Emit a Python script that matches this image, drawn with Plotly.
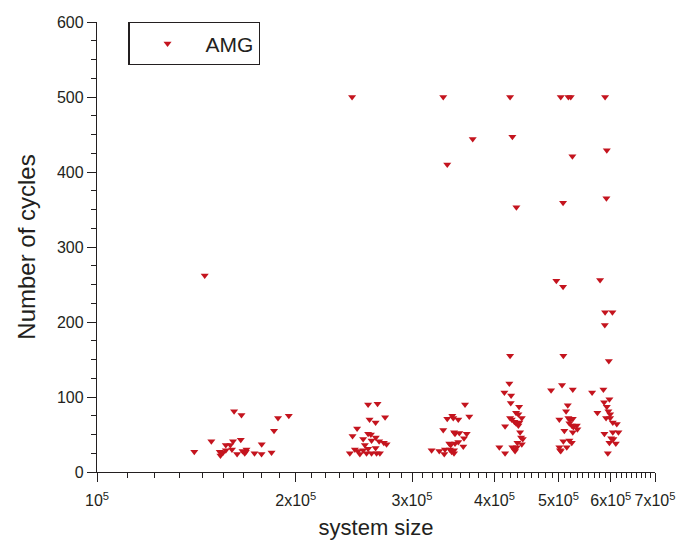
import plotly.graph_objects as go
import numpy as np

# system size (units of 1e5) and number of cycles, per cluster
g1_x = [1.404, 1.456, 1.490, 1.534, 1.543, 1.552, 1.538, 1.567, 1.567, 1.592, 1.601, 1.607, 1.613,
        1.630, 1.651, 1.655, 1.661, 1.674, 1.684, 1.680, 1.732, 1.775, 1.776, 1.838, 1.854, 1.880, 1.952]
g1_y = [27, 262, 41, 27, 25, 26, 22, 36, 29, 36, 30, 41, 81,
        24, 43, 76, 28, 25, 30, 27, 25, 24, 37, 26, 55, 72, 75]

g2_x = [2.434, 2.415, 2.438, 2.458, 2.477, 2.486, 2.501, 2.530, 2.530, 2.545, 2.560, 2.574, 2.574, 2.574,
        2.587, 2.599, 2.605, 2.605, 2.642, 2.642, 2.644, 2.651, 2.660, 2.675, 2.682, 2.719, 2.731, 2.745]
g2_y = [500, 25, 48, 30, 58, 28, 24, 44, 29, 36, 25, 90, 51, 31,
        70, 50, 42, 25, 66, 32, 46, 25, 91, 41, 25, 39, 73, 37]

g3_x = [3.345, 3.707, 3.392, 3.609, 3.663, 3.392, 3.452, 3.464, 3.525, 3.345, 3.473, 3.485, 3.538, 3.630,
        3.596, 3.416, 3.433, 3.485, 3.525, 3.587, 3.212, 3.299, 3.365, 3.357, 3.424, 3.445, 3.473, 3.473]
g3_y = [500, 444, 410, 90, 74, 71, 75, 72, 70, 56, 53, 51, 52, 51,
        45, 38, 36, 38, 40, 34, 29, 28, 30, 24, 30, 27, 25, 29]

g4_x = [4.223, 4.257, 4.317, 4.223, 4.212, 4.140, 4.238, 4.233, 4.358, 4.312, 4.347, 4.399, 4.223, 4.248,
        4.287, 4.312, 4.347, 4.362, 4.150, 4.373, 4.388, 4.414, 4.332, 4.399, 4.068, 4.257, 4.287, 4.323,
        4.297, 4.150]
g4_y = [500, 447, 353, 155, 118, 106, 102, 92, 87, 79, 77, 72, 72, 70,
        67, 65, 62, 66, 61, 53, 46, 44, 39, 37, 33, 33, 30, 33,
        28, 25]

g5_x = [5.039, 5.175, 5.218, 5.248, 5.080, 4.962, 5.080, 5.085, 5.062, 4.872, 5.255, 5.164, 5.134, 5.015,
        5.175, 5.206, 5.255, 5.193, 5.237, 5.329, 5.266, 5.340, 5.103, 5.255, 5.085, 5.193, 5.237, 5.146,
        5.015, 5.027, 5.039]
g5_y = [500, 500, 500, 421, 359, 255, 247, 155, 116, 109, 110, 89, 81, 70,
        72, 69, 71, 65, 62, 62, 60, 57, 55, 53, 41, 42, 39, 33,
        33, 29, 28]

g6_x = [5.882, 5.917, 5.909, 5.780, 5.882, 6.034, 5.876, 5.959, 5.847, 5.621, 5.971, 5.861, 5.917, 5.950,
        5.986, 5.726, 5.902, 5.986, 6.042, 6.127, 5.868, 6.042, 6.162, 6.007, 6.055, 5.971, 6.106, 5.938]
g6_y = [500, 429, 365, 256, 213, 213, 196, 148, 110, 106, 97, 93, 87, 81,
        77, 79, 72, 72, 66, 64, 51, 53, 53, 45, 44, 39, 38, 25]

x_scale = 1e5
tick_mult = [1, 2, 3, 4, 5, 6, 7]
tick_text = ["10<sup>5</sup>", "2x10<sup>5</sup>", "3x10<sup>5</sup>", "4x10<sup>5</sup>",
             "5x10<sup>5</sup>", "6x10<sup>5</sup>", "7x10<sup>5</sup>"]

xs = [v * x_scale for v in g1_x + g2_x + g3_x + g4_x + g5_x + g6_x]
ys = g1_y + g2_y + g3_y + g4_y + g5_y + g6_y

tick_vals = [m * x_scale for m in tick_mult]
minor_vals = [(k + j / 9) * x_scale for k in tick_mult[:-1] for j in range(1, 9)]

red = "#c4141e"
ink = "#231f20"
font_family = "Liberation Sans, Arial, sans-serif"

fig = go.Figure()
fig.add_trace(go.Scatter(
    x=xs, y=ys, mode="markers", name="AMG",
    marker=dict(symbol="triangle-down", size=7, color=red, line=dict(width=0)),
    cliponaxis=False,
))

fig.update_layout(
    width=686, height=540,
    margin=dict(l=97, r=31, t=22, b=68),
    paper_bgcolor="white", plot_bgcolor="white",
    font=dict(family=font_family, color=ink, size=16),
    showlegend=True,
    legend=dict(
        x=0.056, y=1.0, xanchor="left", yanchor="top",
        bordercolor=ink, borderwidth=1.3, bgcolor="white",
        font=dict(size=21, color=ink),
        itemwidth=66,
    ),
)

fig.update_xaxes(
    type="log",
    automargin=False,
    range=[np.log10(1e5), np.log10(7e5)],
    tickmode="array", tickvals=tick_vals, ticktext=tick_text,
    ticks="outside", ticklen=9, tickwidth=1.3, tickcolor=ink,
    showline=True, linecolor=ink, linewidth=1.3,
    showgrid=False, zeroline=False,
    tickfont=dict(size=16),
    ticklabelstandoff=5,
    minor=dict(tickvals=minor_vals, ticks="outside", ticklen=5, tickwidth=1.3,
               tickcolor=ink, showgrid=False),
    title=dict(text="system size", font=dict(size=22), standoff=16),
)
fig.update_yaxes(
    automargin=False,
    range=[0, 600], dtick=100, tick0=0,
    ticks="outside", ticklen=9, tickwidth=1.3, tickcolor=ink,
    showline=True, linecolor=ink, linewidth=1.3,
    showgrid=False, zeroline=False,
    tickfont=dict(size=16),
    minor=dict(dtick=25, ticks="outside", ticklen=5, tickwidth=1.3,
               tickcolor=ink, showgrid=False),
    title=dict(text="Number of cycles", font=dict(size=24), standoff=14),
)

fig.write_html("out.html")
